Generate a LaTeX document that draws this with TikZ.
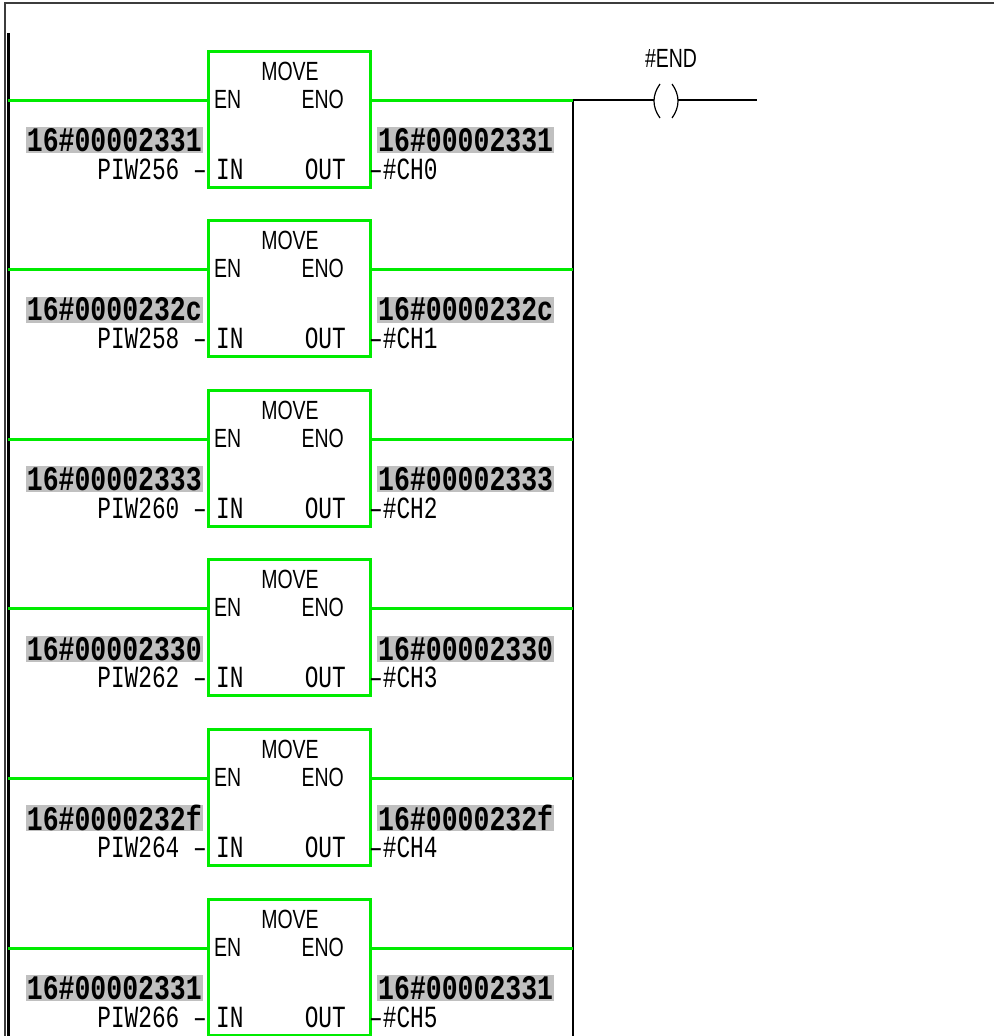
\documentclass[tikz,border=0pt]{standalone}
\usepackage{fontspec}
\setmainfont{Liberation Sans}
\newfontfamily\plcmono{Liberation Mono}
\usetikzlibrary{calc}
\definecolor{plcgreen}{RGB}{0,235,0}
\definecolor{valgray}{RGB}{192,192,192}
\definecolor{frame}{RGB}{60,60,60}
\newcommand\tallA[1]{\scalebox{1}[1.3]{#1}}
\newcommand\tallB[1]{\scalebox{1}[1.35]{#1}}
\newcommand\tallC[1]{\scalebox{1}[1.35]{#1}}
\begin{document}
\begin{tikzpicture}[x=1pt,y=-1pt,
  blk/.style={draw=plcgreen,line width=3pt,minimum width=162pt,minimum height=136pt,inner sep=0pt},
  gline/.style={draw=plcgreen,line width=3pt},
  bline/.style={draw=black,line width=1.2pt},
  val/.style={fill=valgray,inner xsep=1pt,inner ysep=0pt,minimum height=26pt,font=\plcmono\bfseries\fontsize{26.5}{28}\selectfont},
  mlbl/.style={inner sep=0pt,font=\plcmono\fontsize{22.8}{24}\selectfont},
  slbl/.style={inner sep=0pt,font=\fontsize{19.5}{22}\selectfont}]
\useasboundingbox (0,0) rectangle (994,1036);
\clip (0,0) rectangle (994,1036);
\fill[white] (0,0) rectangle (994,1036);
% frame and left rail
\coordinate (tl) at (5,3);
\coordinate (tr) at (994,3);
\coordinate (bl) at (5,1040);
\draw[frame,line width=2pt] (tr) -- (tl) -- (bl);
\coordinate (railtop) at (8,33);
\coordinate (railbot) at (8,1040);
\draw[black,line width=3pt] (railtop) -- (railbot);
% right rail
\coordinate (j0) at (573,100);
\coordinate (jbot) at (573,1040);
\draw[bline] (j0) -- (jbot);
% coil
\coordinate (cl) at (654,100);
\coordinate (cr) at (678,100);
\coordinate (cend) at (757,100);
\draw[bline] (j0) -- (cl);
\draw[bline] (cr) -- (cend);
\draw[bline] (660,84) .. controls (652,95) and (652,107) .. (660,118);
\draw[bline] (672,84) .. controls (680,95) and (680,107) .. (672,118);
\node[slbl] (endlbl) at (671,58) {\tallC{\#END}};
\foreach \i/\v/\p/\c in {0/00002331/PIW256/CH0,1/0000232c/PIW258/CH1,2/00002333/PIW260/CH2,3/00002330/PIW262/CH3,4/0000232f/PIW264/CH4,5/00002331/PIW266/CH5}{
  \pgfmathsetmacro\o{\i*169.6}
  \node[blk] (b\i) at (289,119+\o) {};
  \coordinate (r\i) at (8,100+\o);
  \coordinate (en\i) at (208,100+\o);
  \coordinate (eno\i) at (370,100+\o);
  \coordinate (k\i) at (573,100+\o);
  \draw[gline] (r\i) -- (en\i);
  \draw[gline] (eno\i) -- (k\i);
  \node[slbl] (mv\i) at (290,71+\o) {\tallC{MOVE}};
  \node[slbl,anchor=west] (enl\i) at (214,99+\o) {\tallC{EN}};
  \node[slbl,anchor=east] (enol\i) at (344,99+\o) {\tallC{ENO}};
  \node[mlbl,anchor=west] (inl\i) at (216,169+\o) {\tallB{IN}};
  \node[mlbl,anchor=east] (outl\i) at (346,169+\o) {\tallB{OUT}};
  \node[val,anchor=east] (lv\i) at (203,140+\o) {\tallA{16\#\v}};
  \node[mlbl,anchor=east] (pl\i) at (207,169+\o) {\tallB{\p{} \textendash}};
  \node[val,anchor=west] (rv\i) at (377,140+\o) {\tallA{16\#\v}};
  \node[mlbl,anchor=west] (cl\i) at (369,169+\o) {\tallB{\textendash\#\c}};
}
\end{tikzpicture}
\end{document}
